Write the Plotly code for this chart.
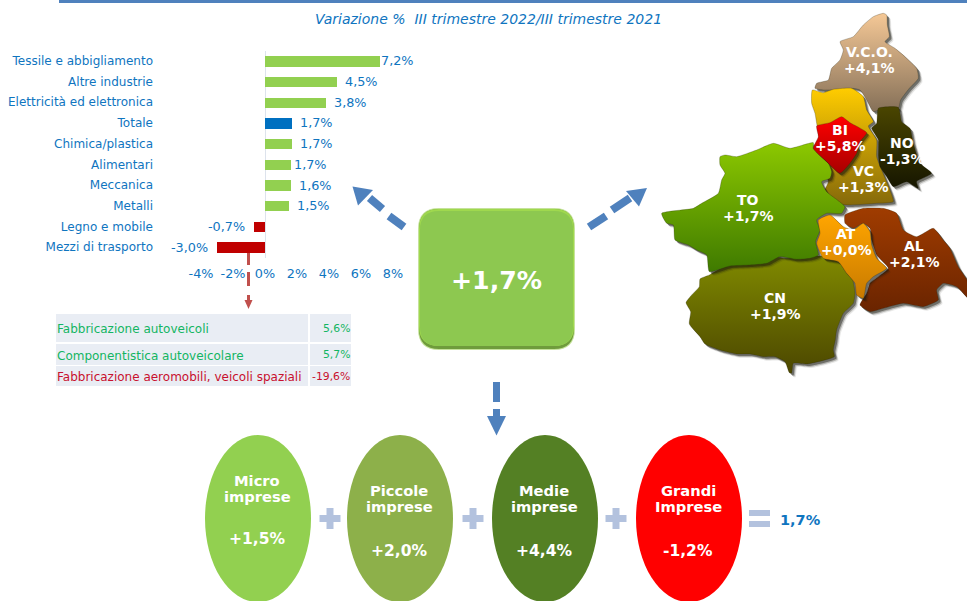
import plotly.graph_objects as go

W, H = 967, 601
FONT = "DejaVu Sans"
BLUE = "#0070C0"
TEXT_BLUE = "#0F75BF"
ARROW = "#4F81BD"

sectors = ["Tessile e abbigliamento", "Altre industrie", "Elettricità ed elettronica", "Totale",
           "Chimica/plastica", "Alimentari", "Meccanica", "Metalli", "Legno e mobile", "Mezzi di trasporto"]
sector_values = [7.2, 4.5, 3.8, 1.7, 1.7, 1.65, 1.6, 1.5, -0.7, -3.0]
sector_labels = ["7,2%", "4,5%", "3,8%", "1,7%", "1,7%", "1,7%", "1,6%", "1,5%", "-0,7%", "-3,0%"]
sector_colors = ["#92D050"] * 3 + [BLUE] + ["#92D050"] * 4 + ["#C00000"] * 2
label_gaps = [-1, 6, 6, 6, 6, 1, 6, 6, 7, 7]
x_ticks = [-4, -2, 0, 2, 4, 6, 8]
x_ticktext = ["-4%", "-2%", "0%", "2%", "4%", "6%", "8%"]

detail_names = ["Fabbricazione autoveicoli", "Componentistica autoveicolare",
                "Fabbricazione aeromobili, veicoli spaziali"]
detail_values = ["5,6%", "5,7%", "-19,6%"]
detail_colors = ["#13B562", "#13B562", "#C8102E"]
detail_rows = [(314, 342), (344, 365), (366, 386)]

firm_names = [["Micro", "imprese"], ["Piccole", "imprese"], ["Medie", "imprese"], ["Grandi", "Imprese"]]
firm_values = ["+1,5%", "+2,0%", "+4,4%", "-1,2%"]
firm_colors = ["#92D050", "#8DB04A", "#548024", "#FF0000"]
firm_centers = [258, 400, 545, 689]
firm_text_y = [(480, 496, 539), (490, 506, 551), (490, 506, 551), (490, 506, 551)]

total_label = "+1,7%"
sum_label = "1,7%"
title = "Variazione %\u00a0\u00a0III trimestre 2022/III trimestre 2021"

vco = [(700,40),(710,45),(712,75),(718,110),(705,125),(735,145),(765,170),(800,205),(805,235),(778,265),(752,300),(745,325),(700,325),(670,335),(650,300),(630,270),(605,265),(575,275),(545,270),(520,270),(495,265),(500,250),(535,240),(545,205),(570,180),(580,150),(570,125),(610,110),(640,75),(670,50)]
vc = [(487,270),(520,278),(550,268),(605,265),(640,290),(650,330),(670,365),(655,378),(680,420),(680,470),(695,510),(720,570),(730,605),(680,610),(600,615),(545,608),(525,570),(535,545),(520,500),(510,430),(500,370),(495,340),(485,310)]
bi = [(500,378),(540,368),(575,350),(600,368),(650,398),(630,425),(620,460),(600,490),(570,520),(530,485),(490,445),(505,410)]
no = [(685,325),(745,322),(755,365),(780,385),(790,430),(810,490),(845,520),(800,545),(805,565),(770,545),(730,560),(710,530),(690,500),(685,470),(685,420),(665,385),(680,370)]
to = [(210,470),(225,465),(260,470),(320,450),(370,430),(420,445),(490,428),(490,445),(535,490),(545,515),(540,535),(515,545),(530,575),(585,620),(575,640),(530,640),(500,660),(510,690),(497,725),(505,765),(480,775),(440,778),(390,770),(350,790),(300,795),(240,798),(178,815),(170,765),(140,750),(115,735),(75,720),(70,675),(50,670),(35,640),(130,625),(155,610),(205,580),(215,540),(225,520),(210,495)]
cn = [(178,825),(150,837),(148,860),(125,885),(108,908),(122,935),(118,972),(150,1010),(165,1032),(210,1050),(260,1062),(300,1062),(340,1070),(375,1070),(405,1085),(418,1118),(425,1120),(430,1090),(470,1092),(505,1085),(553,1070),(550,1050),(556,1020),(560,990),(580,940),(610,910),(615,880),(608,840),(590,820),(570,790),(540,770),(470,768),(410,775),(370,770),(340,780),(280,785),(230,795)]
at = [(505,660),(540,645),(580,680),(610,690),(640,670),(660,695),(665,735),(680,775),(710,805),(670,830),(650,850),(640,895),(620,885),(615,850),(590,820),(565,785),(520,775),(500,730),(510,700)]
al = [(585,645),(640,625),(700,625),(740,640),(760,690),(800,710),(850,685),(880,720),(900,745),(925,800),(951,840),(960,900),(920,860),(880,850),(860,870),(865,900),(820,920),(760,910),(700,925),(660,935),(630,915),(650,880),(660,850),(715,805),(680,765),(665,720),(660,685),(640,670),(610,685),(585,670)]
provinces = [
    ("CN", cn, "#808A00", "#4C4700"),
    ("VCO", vco, "#F5C896", "#857058"),
    ("VC", vc, "#FFCC00", "#85690A"),
    ("NO", no, "#4A4500", "#161600"),
    ("TO", to, "#8CC800", "#3F7A00"),
    ("AL", al, "#A03C00", "#6A2400"),
    ("AT", at, "#FFA500", "#C87A00"),
    ("BI", bi, "#FF0000", "#A80000"),
]
map_labels = [("V.C.O.", "+4,1%", 869, 52), ("BI", "+5,8%", 840, 130), ("NO", "-1,3%", 902, 143),
              ("VC", "+1,3%", 863, 171), ("TO", "+1,7%", 748, 200), ("AT", "+0,0%", 846, 234),
              ("AL", "+2,1%", 914, 246), ("CN", "+1,9%", 775, 298)]


def mx(p):
    return 650 + p / 3


def my(p):
    return p / 3


fig = go.Figure()

fig.add_trace(go.Bar(x=sector_values, y=sectors, orientation="h", marker_color=sector_colors,
                     marker_line_width=0, width=0.5, hoverinfo="skip", showlegend=False))

SPLINE = dict(shape="spline", smoothing=0.5)
for name, poly, c1, c2 in provinces:
    closed = list(poly) + [poly[0]]
    xs = [mx(p[0]) for p in closed]
    ys = [my(p[1]) for p in closed]
    for off, alpha in ((4, 0.10), (3, 0.25), (2, 0.45)):
        fig.add_trace(go.Scatter(x=[v + off for v in xs], y=[v + off for v in ys], xaxis="x2", yaxis="y2",
                                 mode="lines", fill="toself", fillcolor=f"rgba(25,25,15,{alpha})",
                                 line=dict(color="rgba(0,0,0,0)", width=0, **SPLINE),
                                 hoverinfo="skip", showlegend=False))
    fig.add_trace(go.Scatter(x=xs, y=ys, xaxis="x2", yaxis="y2", mode="lines", fill="toself",
                             fillgradient=dict(type="vertical", colorscale=[[0, c1], [1, c2]],
                                               start=min(ys), stop=max(ys)),
                             line=dict(color="rgba(30,30,10,0.25)", width=1, **SPLINE),
                             hoverinfo="skip", showlegend=False))

shapes = []
annotations = []


def rect(x0, y0, x1, y1, color):
    shapes.append(dict(type="rect", xref="x2", yref="y2", x0=x0, y0=y0, x1=x1, y1=y1,
                       fillcolor=color, line_width=0))


def poly_shape(points, color):
    path = "M" + " L".join(f"{x},{y}" for x, y in points) + " Z"
    shapes.append(dict(type="path", xref="x2", yref="y2", path=path, fillcolor=color, line_width=0))


def rounded(x0, y0, x1, y1, r, color):
    path = (f"M{x0+r},{y0} L{x1-r},{y0} Q{x1},{y0} {x1},{y0+r} L{x1},{y1-r} Q{x1},{y1} {x1-r},{y1} "
            f"L{x0+r},{y1} Q{x0},{y1} {x0},{y1-r} L{x0},{y0+r} Q{x0},{y0} {x0+r},{y0} Z")
    shapes.append(dict(type="path", xref="x2", yref="y2", path=path, fillcolor=color, line_width=0))


def seg(x0, y0, x1, y1, color, width):
    shapes.append(dict(type="line", xref="x2", yref="y2", x0=x0, y0=y0, x1=x1, y1=y1,
                       line=dict(color=color, width=width)))


def text(x, y, s, size, color, bold=False, anchor="center", italic=False):
    annotations.append(dict(xref="x2", yref="y2", x=x, y=y, text=f"<b>{s}</b>" if bold else (f"<i>{s}</i>" if italic else s),
                            showarrow=False, xanchor=anchor, yanchor="middle",
                            font=dict(family=FONT, size=size, color=color), borderpad=0, borderwidth=0))


rect(59, 0, 967, 3, ARROW)
text(488, 19, title, 14, TEXT_BLUE, italic=True)

for name, v, lab, gap in zip(sectors, sector_values, sector_labels, label_gaps):
    annotations.append(dict(xref="x", yref="y", x=v, y=name, text=lab, showarrow=False,
                            xanchor="left" if v >= 0 else "right", xshift=gap if v >= 0 else -gap,
                            yanchor="middle", font=dict(family=FONT, size=12.8, color=TEXT_BLUE)))

RED = "#C0504D"
seg(248.5, 253, 248.5, 265, RED, 3)
seg(248.5, 272, 248.5, 286, RED, 3)
seg(248.5, 295, 248.5, 301, RED, 3)
poly_shape([(244.5, 300), (252.5, 300), (248.5, 309)], RED)

for (y0, y1), nm, val, col in zip(detail_rows, detail_names, detail_values, detail_colors):
    rect(56, y0, 308, y1, "#E9EDF4")
    rect(310, y0, 351, y1, "#E9EDF4")
    text(57, (y0 + y1) / 2 + 1, nm, 12, col, anchor="left")
    text(350, (y0 + y1) / 2, val, 10.8, col, anchor="right")

rounded(418, 208, 575, 350, 21, "#C5E29B")
rounded(419, 209, 574, 349, 20, "#6F9C3C")
rounded(419, 209, 574, 346, 20, "#9FD84E")
rounded(420, 211, 573, 346, 19, "#8DC850")
text(496.5, 280, total_label, 25.2, "white", bold=True)

seg(404, 227, 389, 216, ARROW, 8)
seg(382.5, 209, 369.5, 198, ARROW, 8)
poly_shape([(352.5, 186.5), (373, 190), (358, 205.5)], ARROW)
seg(589, 227, 606, 216, ARROW, 8)
seg(612, 210, 630, 198, ARROW, 8)
poly_shape([(647, 188), (626, 191), (639, 206.5)], ARROW)
rect(493, 382, 500, 402, ARROW)
rect(493, 409, 500, 417, ARROW)
poly_shape([(487, 416), (506, 416), (496.5, 435.5)], ARROW)

for cx, col, nm, val, ty in zip(firm_centers, firm_colors, firm_names, firm_values, firm_text_y):
    shapes.append(dict(type="circle", xref="x2", yref="y2", x0=cx - 53, x1=cx + 53, y0=435, y1=602,
                       fillcolor=col, line_width=0))
    text(cx - 1, ty[0], nm[0], 14.7, "white", bold=True)
    text(cx - 1, ty[1], nm[1], 14.7, "white", bold=True)
    text(cx - 1, ty[2], val, 15.5, "white", bold=True)

for cx in (330, 473, 616):
    rect(cx - 10.5, 515, cx + 10.5, 522, "#B3C2DE")
    rect(cx - 3.5, 508, cx + 3.5, 529, "#B3C2DE")
rect(749, 510, 770, 516, "#B3C2DE")
rect(749, 521, 770, 527, "#B3C2DE")
text(780, 520, sum_label, 14.5, TEXT_BLUE, bold=True, anchor="left")

for a, b, x, y in map_labels:
    text(x, y, a, 14, "white", bold=True)
    text(x, y + 16, b, 14, "white", bold=True)

fig.update_layout(
    width=W, height=H, margin=dict(l=0, r=0, t=0, b=0, pad=0, autoexpand=False),
    paper_bgcolor="white", plot_bgcolor="rgba(0,0,0,0)", showlegend=False, bargap=0,
    shapes=shapes, annotations=annotations,
    xaxis=dict(domain=[201 / W, 393 / W], range=[-4, 8], tickvals=x_ticks, ticktext=x_ticktext,
               showgrid=False, zeroline=True, zerolinecolor="#DDE3EC", zerolinewidth=1,
               anchor="free", position=1 - 264 / H, showline=False, ticks="",
               tickfont=dict(family=FONT, size=12.8, color=TEXT_BLUE)),
    yaxis=dict(domain=[1 - 257.5 / H, 1 - 50.5 / H], autorange="reversed", showgrid=False, zeroline=False,
               anchor="free", position=153 / W, showline=False, ticks="", type="category",
               tickfont=dict(family=FONT, size=12, color=TEXT_BLUE)),
    xaxis2=dict(domain=[0, 1], range=[0, W], visible=False, fixedrange=True),
    yaxis2=dict(domain=[0, 1], range=[H, 0], visible=False, fixedrange=True, anchor="x2"),
)

fig.write_html("out.html", config=dict(displayModeBar=False),
               post_script="document.body.style.margin='0';document.documentElement.style.overflow='hidden';")
